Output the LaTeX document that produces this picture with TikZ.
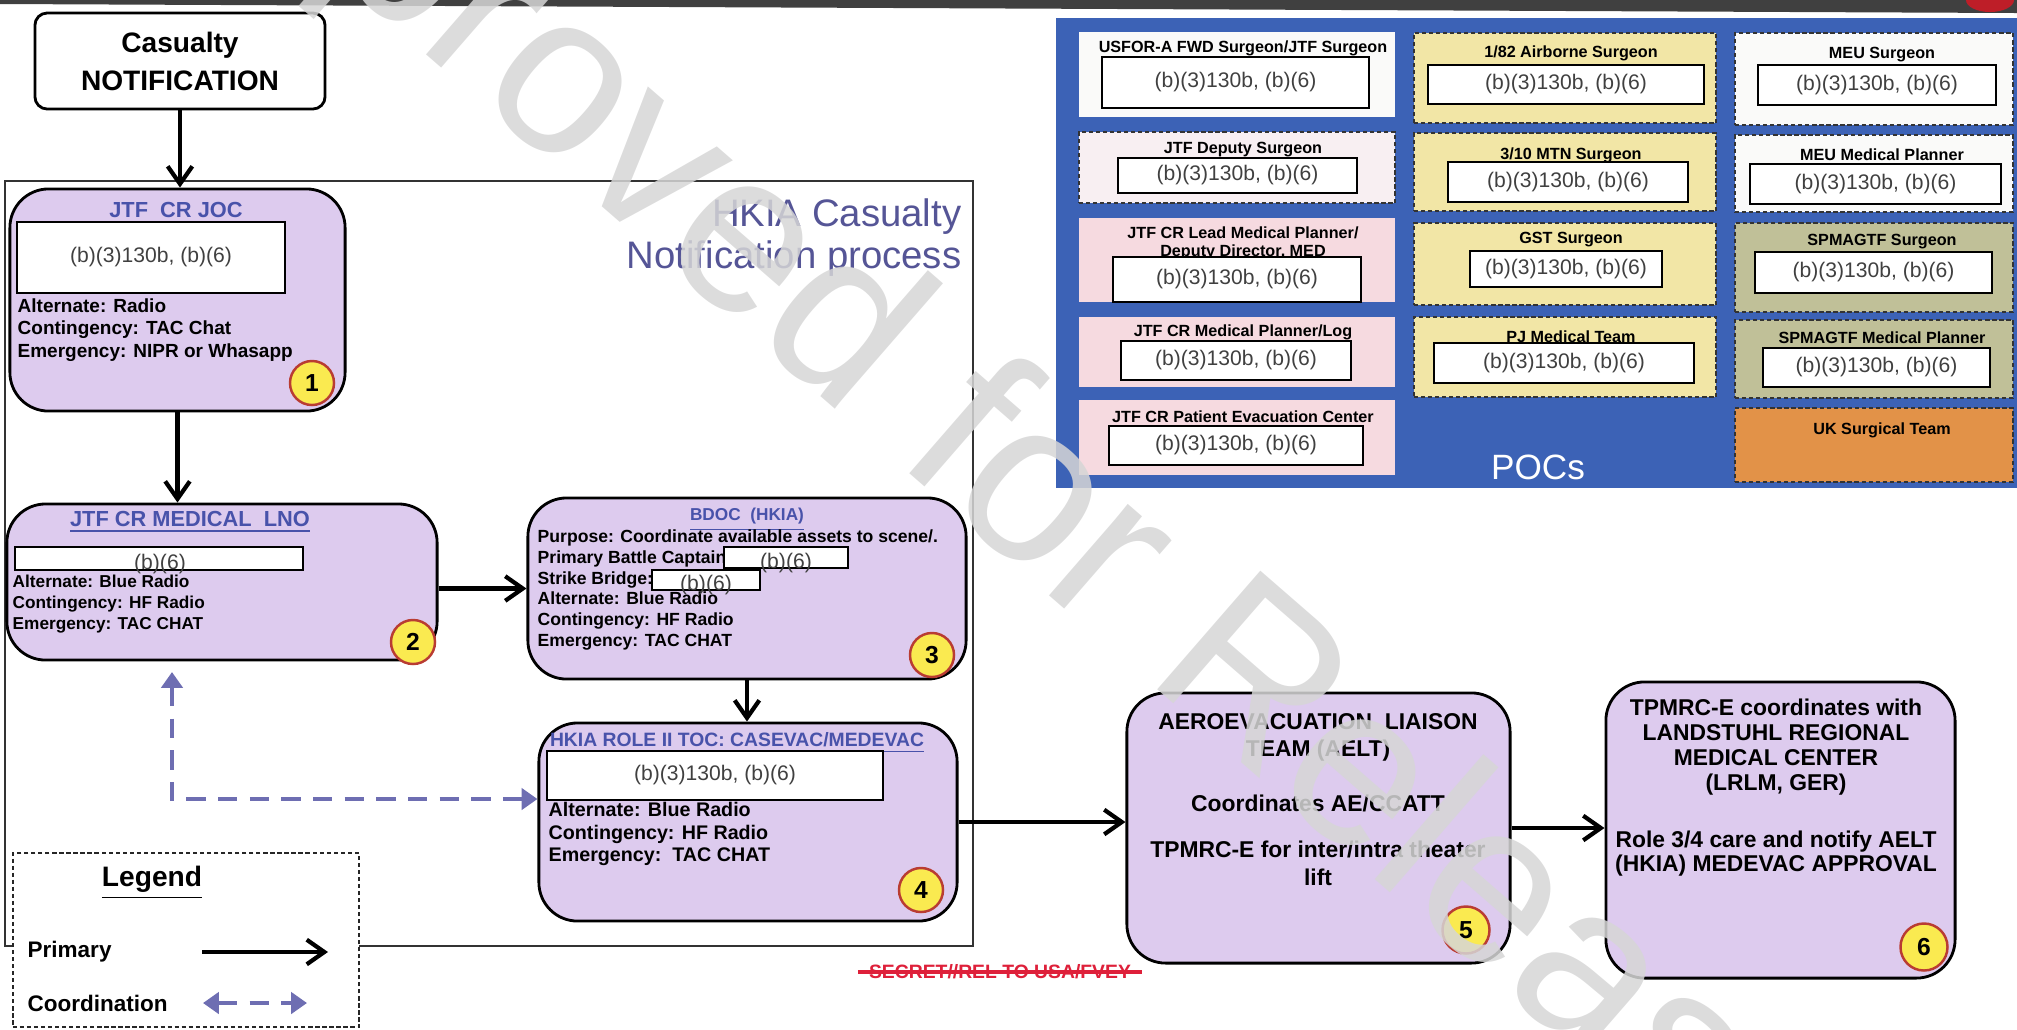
\documentclass[tikz,border=0pt]{standalone}
\usepackage{fontspec}
\setmainfont{Liberation Sans}
\usetikzlibrary{arrows.meta,positioning}
\definecolor{lav}{RGB}{221,203,238}
\definecolor{numyel}{RGB}{250,234,80}
\definecolor{numred}{RGB}{185,60,50}
\definecolor{ttlblue}{RGB}{72,82,170}
\definecolor{ttlpurp}{RGB}{85,85,150}
\definecolor{coordc}{RGB}{110,110,178}
\definecolor{pocblue}{RGB}{60,98,182}
\definecolor{offw}{RGB}{250,250,249}
\definecolor{pkw}{RGB}{248,239,242}
\definecolor{pnk}{RGB}{246,218,224}
\definecolor{yel}{RGB}{242,230,166}
\definecolor{olv}{RGB}{192,192,152}
\definecolor{orng}{RGB}{226,146,72}
\definecolor{secred}{RGB}{222,32,58}
\definecolor{barred}{RGB}{190,30,40}
\newcommand{\fsz}[2]{\fontsize{#1}{#2}\selectfont}

\begin{document}
\begin{tikzpicture}[x=0.01cm,y=-0.01cm,>={Straight Barb[length=5pt,width=7pt]},
  proc/.style={draw,line width=0.8pt,rounded corners=11pt,fill=lav,inner sep=0},
  redact/.style={draw,line width=0.5pt,fill=white,inner sep=0,font=\fsz{6pt}{7pt},text=black!75},
  rtext/.style={inner sep=0,font=\fsz{6pt}{7pt},text=black!75},
  num/.style={circle,draw=numred,line width=0.7pt,fill=numyel,minimum size=0.44cm,inner sep=0,font=\fsz{7pt}{8pt}\bfseries},
  ttl/.style={inner sep=0,text=ttlblue,font=\fsz{6.2pt}{7pt}\bfseries},
  body/.style={inner sep=0,align=left,anchor=west,font=\fsz{5.4pt}{6.5pt}\bfseries},
  big/.style={inner sep=0,align=center,font=\fsz{6.5pt}{7.8pt}\bfseries},
  prim/.style={line width=1.2pt},
  coord/.style={draw=coordc,line width=1.1pt,dash pattern=on 5.5pt off 3.5pt,>={Triangle[length=4.5pt,width=6pt]}},
  pbox/.style={inner sep=0},
  pdash/.style={pbox,draw=black!80,line width=0.6pt,dash pattern=on 1.2pt off 0.8pt},
  ptitle/.style={inner sep=0,align=center,font=\fsz{4.6pt}{5pt}\bfseries}]
\useasboundingbox (0,0) rectangle (2017,1029);
% top strip
\fill[black!75] (0,0) -- (2017,0) -- (2017,13) -- (0,4) -- cycle;
\fill[barred] (1990,0) ellipse (24 and 12);

% HKIA frame
\node[draw=black!80,line width=0.5pt,minimum width=9.68cm,minimum height=7.65cm,inner sep=0] (hkia) at (489,563.5) {};
\node[anchor=east,align=right,inner sep=0,text=ttlpurp,font=\fsz{10.9pt}{11.7pt}] (hkiat) at (962,237.5) {HKIA Casualty\\Notification process};

\node[draw,line width=0.8pt,rounded corners=3.5pt,fill=white,minimum width=2.9cm,minimum height=0.96cm,align=center,font=\fsz{8pt}{10.8pt}\bfseries] (cas) at (180,61) {Casualty\\NOTIFICATION};

% step 1
\node[proc,minimum width=3.35cm,minimum height=2.22cm] (b1) at (177.5,300) {};
\node[ttl] (b1t) at (176,213) {\underline{JTF\ \ CR JOC}};
\node[redact,minimum width=2.68cm,minimum height=0.71cm] (b1r) at (151,257.5) {(b)(3)130b, (b)(6)};
\node[body] (b1x) at (17,330) {Alternate: Radio\\Contingency: TAC Chat\\Emergency: NIPR or Whasapp};
\node[num] (n1) at (312,383) {1};

% step 2
\node[proc,minimum width=4.3cm,minimum height=1.56cm] (b2) at (222,582) {};
\node[ttl] (b2t) at (190,522) {\underline{JTF CR MEDICAL\ \ LNO}};
\node[redact,minimum width=2.88cm,minimum height=0.23cm] (b2r) at (159,558.5) {};
\node[rtext] (b2rt) at (160,564) {(b)(6)};
\node[body,font=\fsz{4.9pt}{6pt}\bfseries] (b2x) at (12,604) {Alternate: Blue Radio\\Contingency: HF Radio\\Emergency: TAC CHAT};
\node[num] (n2) at (413,642) {2};

% step 3
\node[proc,minimum width=4.38cm,minimum height=1.81cm] (b3) at (747,588.5) {};
\node[ttl,font=\fsz{4.9pt}{6pt}\bfseries] (b3t) at (747,520) {\underline{BDOC\ \ (HKIA)}};
\node[body,font=\fsz{5pt}{5.92pt}\bfseries] (b3x) at (537,590) {Purpose: Coordinate available assets to scene/.\\Primary Battle Captain\\Strike Bridge:\\Alternate: Blue Radio\\Contingency: HF Radio\\Emergency: TAC CHAT};
\node[redact,minimum width=1.24cm,minimum height=0.21cm] (b3r1) at (786,557.5) {};
\node[rtext] (b3r1t) at (786,563) {(b)(6)};
\node[redact,minimum width=1.08cm,minimum height=0.2cm] (b3r2) at (706,580) {};
\node[rtext] (b3r2t) at (706,585) {(b)(6)};
\node[num] (n3) at (932,655) {3};

% step 4
\node[proc,minimum width=4.18cm,minimum height=1.98cm] (b4) at (748,822) {};
\node[ttl,font=\fsz{5.5pt}{6.5pt}\bfseries] (b4t) at (737,743) {\underline{HKIA ROLE II TOC: CASEVAC/MEDEVAC}};
\node[redact,minimum width=3.36cm,minimum height=0.49cm] (b4r) at (715,775.5) {(b)(3)130b, (b)(6)};
\node[body,font=\fsz{5.6pt}{6.5pt}\bfseries] (b4x) at (548,834) {Alternate: Blue Radio\\Contingency: HF Radio\\Emergency:\ \ TAC CHAT};
\node[num] (n4) at (921,890) {4};

% step 5
\node[proc,minimum width=3.83cm,minimum height=2.7cm] (b5) at (1318.5,828) {};
\node[big] (b5a) at (1318,737.5) {AEROEVACUATION\ \ LIAISON\\TEAM (AELT)};
\node[big] (b5b) at (1318,803) {Coordinates AE/CCATT};
\node[big] (b5c) at (1318,863.5) {TPMRC-E for inter/intra theater\\lift};
\node[num,minimum size=0.47cm] (n5) at (1466,930) {5};

% step 6
\node[proc,minimum width=3.49cm,minimum height=2.96cm] (b6) at (1780.5,830) {};
\node[big,font=\fsz{6.5pt}{7.1pt}\bfseries] (b6a) at (1776,747.5) {TPMRC-E coordinates with\\LANDSTUHL REGIONAL\\MEDICAL CENTER\\(LRLM, GER)};
\node[big,font=\fsz{6.5pt}{6.6pt}\bfseries] (b6b) at (1776,853.5) {Role 3/4 care and notify AELT\\(HKIA) MEDEVAC APPROVAL};
\node[num,minimum size=0.47cm] (n6) at (1924,947) {6};

% primary flow
\draw[prim,->] (cas.south) -- (cas.south |- b1.north);
\draw[prim,->] (b1.south) -- (b1.south |- b2.north);
\draw[prim,->] (b2.east |- b3.west) -- (b3.west);
\draw[prim,->] (b3.south) -- (b3.south |- b4.north);
\draw[prim,->] (b4.east) -- (b4.east -| b5.west);
\draw[prim,->] (b5.east) -- (b5.east -| b6.west);
% coordination
\coordinate (cc) at (172,799);
\draw[coord,<->,shorten <=3pt] (b2.south -| cc) -- (cc) -- (cc -| b4.west);

% legend
\node[draw=black!85,dash pattern=on 1.2pt off 0.8pt,line width=0.6pt,fill=white,minimum width=3.46cm,minimum height=1.74cm,inner sep=0] (leg) at (186,940) {};
\node[inner sep=0,font=\fsz{8pt}{9pt}\bfseries] (legt) at (152,883) {\underline{Legend}};
\node[anchor=west,inner sep=0,font=\fsz{6.4pt}{7pt}\bfseries] (legp) at (27,952) {Primary};
\node[anchor=west,inner sep=0,font=\fsz{6.4pt}{7pt}\bfseries] (legc) at (27,1003) {Coordination};
\coordinate (lp1) at (202,952); \coordinate (lp2) at (328,952);
\draw[prim,->] (lp1) -- (lp2);
\coordinate (lc1) at (203,1003); \coordinate (lc2) at (307,1003);
\draw[coord,<->] (lc1) -- (lc2);

% POCs
\node[fill=pocblue,minimum width=9.61cm,minimum height=4.7cm,inner sep=0] (pocs) at (1536.5,253) {};
\node[text=white,inner sep=0,font=\fsz{10pt}{11pt}] (pocl) at (1538,467) {POCs};

\node[pbox,fill=offw,minimum width=3.16cm,minimum height=0.85cm] (p11) at (1237,74.5) {};
\node[ptitle] (p11t) at (1243,48) {USFOR-A FWD Surgeon/JTF Surgeon};
\node[redact,minimum width=2.67cm,minimum height=0.51cm] (p11r) at (1235.5,82.5) {(b)(3)130b, (b)(6)};
\node[pdash,fill=pkw,minimum width=3.16cm,minimum height=0.71cm] (p12) at (1237,167.5) {};
\node[ptitle] (p12t) at (1243,150) {JTF Deputy Surgeon};
\node[redact,minimum width=2.39cm,minimum height=0.35cm] (p12r) at (1237.5,175.5) {(b)(3)130b, (b)(6)};
\node[pbox,fill=pnk,minimum width=3.16cm,minimum height=0.84cm] (p13) at (1237,260) {};
\node[ptitle] (p13t) at (1243,243.5) {JTF CR Lead Medical Planner/\\Deputy Director, MED};
\node[redact,minimum width=2.48cm,minimum height=0.45cm] (p13r) at (1237,279.5) {(b)(3)130b, (b)(6)};
\node[pbox,fill=pnk,minimum width=3.16cm,minimum height=0.70cm] (p14) at (1237,352) {};
\node[ptitle] (p14t) at (1243,332) {JTF CR Medical Planner/Log};
\node[redact,minimum width=2.30cm,minimum height=0.39cm] (p14r) at (1236,360.5) {(b)(3)130b, (b)(6)};
\node[pbox,fill=pnk,minimum width=3.16cm,minimum height=0.75cm] (p15) at (1237,437.5) {};
\node[ptitle] (p15t) at (1243,417) {JTF CR Patient Evacuation Center};
\node[redact,minimum width=2.54cm,minimum height=0.39cm] (p15r) at (1236,445.5) {(b)(3)130b, (b)(6)};

\node[pdash,fill=yel,minimum width=3.02cm,minimum height=0.90cm] (p21) at (1565,78) {};
\node[ptitle] (p21t) at (1571,53) {1/82 Airborne Surgeon};
\node[redact,minimum width=2.76cm,minimum height=0.39cm] (p21r) at (1566,84.5) {(b)(3)130b, (b)(6)};
\node[pdash,fill=yel,minimum width=3.02cm,minimum height=0.78cm] (p22) at (1565,172) {};
\node[ptitle] (p22t) at (1571,155) {3/10 MTN Surgeon};
\node[redact,minimum width=2.40cm,minimum height=0.40cm] (p22r) at (1568,182) {(b)(3)130b, (b)(6)};
\node[pdash,fill=yel,minimum width=3.02cm,minimum height=0.82cm] (p23) at (1565,264) {};
\node[ptitle] (p23t) at (1571,240) {GST Surgeon};
\node[redact,minimum width=1.92cm,minimum height=0.36cm] (p23r) at (1566,269) {(b)(3)130b, (b)(6)};
\node[pdash,fill=yel,minimum width=3.02cm,minimum height=0.80cm] (p24) at (1565,357) {};
\node[ptitle] (p24t) at (1571,337) {PJ Medical Team};
\node[redact,minimum width=2.60cm,minimum height=0.40cm] (p24r) at (1564,363) {(b)(3)130b, (b)(6)};

\node[pdash,fill=offw,minimum width=2.78cm,minimum height=0.92cm] (p31) at (1874,79) {};
\node[ptitle] (p31t) at (1882,55) {MEU Surgeon};
\node[redact,minimum width=2.38cm,minimum height=0.40cm] (p31r) at (1877,85) {(b)(3)130b, (b)(6)};
\node[pdash,fill=offw,minimum width=2.78cm,minimum height=0.77cm] (p32) at (1874,173.5) {};
\node[ptitle] (p32t) at (1882,155) {MEU Medical Planner};
\node[redact,minimum width=2.51cm,minimum height=0.40cm] (p32r) at (1875.5,184) {(b)(3)130b, (b)(6)};
\node[pdash,fill=olv,minimum width=2.78cm,minimum height=0.89cm] (p33) at (1874,267.5) {};
\node[ptitle] (p33t) at (1882,242) {SPMAGTF Surgeon};
\node[redact,minimum width=2.37cm,minimum height=0.41cm] (p33r) at (1873.5,272.5) {(b)(3)130b, (b)(6)};
\node[pdash,fill=olv,minimum width=2.78cm,minimum height=0.78cm] (p34) at (1874,359) {};
\node[ptitle] (p34t) at (1882,338) {SPMAGTF Medical Planner};
\node[redact,minimum width=2.27cm,minimum height=0.39cm] (p34r) at (1876.5,367.5) {(b)(3)130b, (b)(6)};
\node[pdash,fill=orng,minimum width=2.78cm,minimum height=0.74cm] (p35) at (1874,445) {};
\node[ptitle] (p35t) at (1882,430) {UK Surgical Team};

% marking
\node[inner sep=0,inner xsep=3pt,text=secred,font=\fsz{5.5pt}{6pt}\bfseries] (sec) at (1000,972) {SECRET//REL TO USA/FVEY};
\draw[secred,line width=1pt] (sec.west) -- (sec.east);

% release stamp
\node[rotate=-41,inner sep=0,text=black!16,opacity=0.85,font=\fsz{65pt}{68pt}] (wm) at (981,458) {Approved for Release};
\end{tikzpicture}
\end{document}
